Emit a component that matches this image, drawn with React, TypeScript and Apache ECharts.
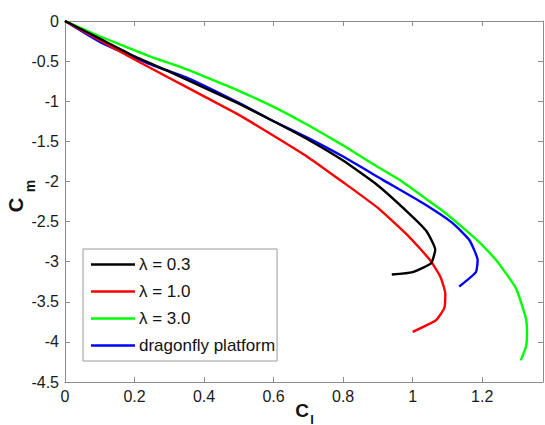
import React, { useEffect, useRef } from "react";
import * as echarts from "echarts";

const seriesNames = ["λ = 0.3", "λ = 1.0", "λ = 3.0", "dragonfly platform"];
const seriesColors = ["#000000", "#ff0000", "#00ff00", "#0000ff"];

const lambda03: [number, number][] = [
  [0, 0], [0.1, -0.22], [0.2, -0.44], [0.3, -0.63], [0.4, -0.83], [0.5, -1.03],
  [0.6, -1.25], [0.7, -1.48], [0.8, -1.74], [0.9, -2.05], [0.99, -2.4],
  [1.04, -2.62], [1.065, -2.85], [1.053, -3.02], [1.0, -3.13], [0.94, -3.16],
];
const lambda10: [number, number][] = [
  [0, 0], [0.1, -0.24], [0.2, -0.48], [0.3, -0.71], [0.4, -0.94], [0.5, -1.17],
  [0.6, -1.43], [0.7, -1.7], [0.8, -2.01], [0.9, -2.33], [0.99, -2.69],
  [1.05, -2.98], [1.08, -3.19], [1.094, -3.4], [1.091, -3.58], [1.067, -3.73], [1.0, -3.875],
];
const lambda30: [number, number][] = [
  [0, 0], [0.1, -0.19], [0.244, -0.44], [0.33, -0.57], [0.4, -0.69], [0.5, -0.87],
  [0.6, -1.07], [0.7, -1.3], [0.8, -1.55], [0.9, -1.82], [0.962, -1.98],
  [1.096, -2.4], [1.19, -2.75], [1.24, -2.98], [1.297, -3.33], [1.326, -3.71],
  [1.329, -3.9], [1.326, -4.06], [1.311, -4.23],
];
const dragonfly: [number, number][] = [
  [0, 0], [0.1, -0.26], [0.24, -0.53], [0.358, -0.72], [0.5, -1.02], [0.6, -1.25],
  [0.7, -1.46], [0.8, -1.69], [0.914, -1.98], [1.029, -2.27], [1.115, -2.52],
  [1.163, -2.73], [1.187, -2.98], [1.182, -3.13], [1.134, -3.31],
];
const allData = [lambda03, lambda10, lambda30, dragonfly];

const xMin = 0;
const xMax = 1.375;
const xInterval = 0.2;
const yMin = -4.5;
const yMax = 0;
const yInterval = 0.5;

const FONT = "Arial, 'Liberation Sans', sans-serif";
const AXIS_GRAY = "#8c8c8c";

export default function App() {
  const ref = useRef<HTMLDivElement>(null);
  useEffect(() => {
    if (!ref.current) return;
    const chart = echarts.init(ref.current, undefined, { renderer: "svg" });
    const baseAxis = {
      type: "value" as const,
      axisLine: { show: true, onZero: false, lineStyle: { color: AXIS_GRAY, width: 1 } },
      axisTick: { show: true, inside: true, length: 5, lineStyle: { color: AXIS_GRAY } },
      splitLine: { show: false },
    };
    chart.setOption({
      animation: false,
      backgroundColor: "#ffffff",
      grid: { left: 65, right: 2, top: 21, bottom: 43, containLabel: false },
      xAxis: [
        {
          ...baseAxis,
          position: "bottom",
          min: xMin,
          max: xMax,
          interval: xInterval,
          axisLabel: {
            show: true,
            margin: 6,
            fontSize: 16,
            fontFamily: FONT,
            color: "#1a1a1a",
            showMaxLabel: false,
            formatter: (v: number) => String(Math.round(v * 10) / 10),
          },
        },
        {
          ...baseAxis,
          position: "top",
          min: xMin,
          max: xMax,
          interval: xInterval,
          axisLabel: { show: false },
        },
      ],
      yAxis: [
        {
          ...baseAxis,
          position: "left",
          min: yMin,
          max: yMax,
          interval: yInterval,
          axisLabel: {
            show: true,
            margin: 6,
            fontSize: 16,
            fontFamily: FONT,
            color: "#1a1a1a",
            formatter: (v: number) => String(Math.round(v * 10) / 10),
          },
        },
        {
          ...baseAxis,
          position: "right",
          min: yMin,
          max: yMax,
          interval: yInterval,
          axisLabel: { show: false },
        },
      ],
      legend: {
        show: true,
        orient: "vertical",
        left: 83,
        top: 249,
        data: seriesNames,
        icon: "rect",
        itemWidth: 44,
        itemHeight: 2.5,
        itemGap: 10,
        padding: [7, 2, 7, 8],
        borderColor: "#9a9a9a",
        borderWidth: 1,
        backgroundColor: "#ffffff",
        textStyle: { fontSize: 17, fontFamily: FONT, color: "#111111", padding: [0, 0, 0, -1] },
      },
      graphic: [
        {
          type: "text",
          x: 16,
          y: 205,
          rotation: Math.PI / 2,
          style: { text: "C", font: `bold 20px ${FONT}`, fill: "#111", align: "center", verticalAlign: "middle" },
        },
        {
          type: "text",
          x: 30,
          y: 186,
          rotation: Math.PI / 2,
          style: { text: "m", font: `bold 14px ${FONT}`, fill: "#111", align: "center", verticalAlign: "middle" },
        },
        {
          type: "text",
          x: 302,
          y: 410,
          style: { text: "C", font: `bold 19px ${FONT}`, fill: "#111", align: "center", verticalAlign: "middle" },
        },
        {
          type: "text",
          x: 312,
          y: 419,
          style: { text: "l", font: `bold 13px ${FONT}`, fill: "#111", align: "center", verticalAlign: "middle" },
        },
      ],
      series: seriesNames.map((name, i) => ({
        name,
        type: "line",
        xAxisIndex: 0,
        yAxisIndex: 0,
        data: allData[i],
        symbol: "none",
        smooth: 0.15,
        lineStyle: { color: seriesColors[i], width: 2.4 },
        itemStyle: { color: seriesColors[i] },
        z: 10 - i,
      })),
    });
    return () => chart.dispose();
  }, []);
  return (
    <div
      ref={ref}
      style={{ position: "fixed", left: 0, top: 0, width: 545, height: 425, background: "#fff" }}
    />
  );
}
